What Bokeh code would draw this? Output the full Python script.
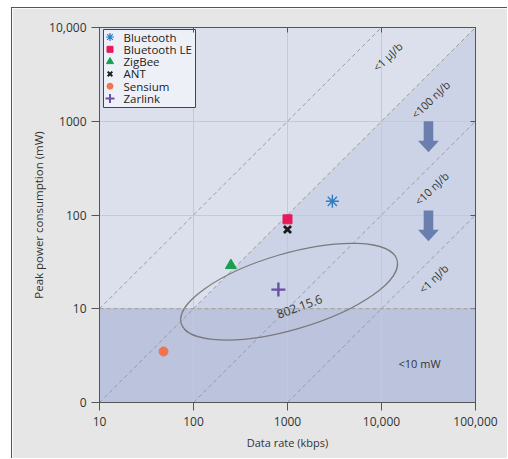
import math
from bokeh.plotting import figure
from bokeh.models import (LogAxis, FixedTicker, CustomJSTickFormatter, Span, Range1d)
from bokeh.core.properties import value
from bokeh.embed import file_html
from bokeh.resources import INLINE

# ---------------- data ----------------
series_names = ["Bluetooth", "Bluetooth LE", "ZigBee", "ANT", "Sensium", "Zarlink"]
data_rate_kbps = [3000, 1000, 250, 1000, 48, 800]
peak_power_mw = [140, 90, 29, 70, 3.5, 16]
marker_types = ["asterisk", "square", "triangle", "x", "circle", "cross"]
marker_colors = ["#2e7cc4", "#e8195a", "#17a04f", "#1a1a1a", "#f0754f", "#6a4fa6"]
marker_sizes = [13, 9, 11, 10, 9, 14]
marker_line_widths = [1.4, 1, 1, 2.8, 1, 2.4]
legend_marker_sizes = [8, 6, 7, 6.5, 6, 9]
legend_marker_line_widths = [1.2, 1, 1, 2, 1, 2]

x_tick_values = [10, 100, 1000, 10000, 100000]
x_tick_labels = ["10", "100", "1000", "10,000", "100,000"]
y_tick_values = [1, 10, 100, 1000, 10000]
y_tick_labels = ["0", "10", "100", "1000", "10,000"]
x_axis_title = "Data rate (kbps)"
y_axis_title = "Peak power consumption (mW)"

# energy per bit levels, in mW per kbps (1 mW/kbps = 1 uJ/b)
energy_levels = [1, 0.1, 0.01, 0.001]
energy_labels = ["<1 \u03bcJ/b", "<100 nJ/b", "<10 nJ/b", "<1 nJ/b"]
energy_label_x = [11600, 33200, 34000, 35700]
energy_label_y = [4900, 1710, 192, 21]
shade_boundary_level = 0.1

power_threshold_mw = 10
power_label = ["<10 mW"]
power_label_x = [25400]
power_label_y = [2.6]

ellipse_center_x = [1040]
ellipse_center_y = [15.2]
ellipse_label = ["802.15.6"]
ellipse_label_x = [1340]
ellipse_label_y = [10.6]

arrow_x = [31600, 31600]
arrow_y_start = [1000, 112]
arrow_y_end = [466, 52.6]

x_min, x_max = 10, 100000
y_min, y_max = 1, 10000

# ---------------- styles ----------------
FONT = "Open Sans"
LIGHT = "#dce0ed"
MEDIUM = "#cdd3e6"
DARK = "#bcc3dc"
ARROW = "#6b7fae"
TEXT = "#333333"

FRAME_W, FRAME_H = 376, 375
# legend box geometry in pixels from the frame's top-left corner
LEG_LEFT, LEG_RIGHT, LEG_TOP, LEG_BOTTOM = 4, 96, 2, 80
LEG_ROW0, LEG_ROW_H = 9.5, 12.3
LEG_GLYPH_X, LEG_TEXT_X = 10.5, 24

p = figure(width=496, height=451, x_axis_type="log", y_axis_type="log",
           x_range=Range1d(x_min, x_max), y_range=Range1d(y_min, y_max),
           output_backend="svg", toolbar_location=None,
           min_border_left=87, min_border_right=33, min_border_top=19, min_border_bottom=57,
           background_fill_color=LIGHT, border_fill_color="#e6e6e6",
           outline_line_color="#5a5a5a", outline_line_width=1)
p.margin = (7, 0, 0, 11)
p.styles = {"border-left": "1px solid #555", "border-top": "1px solid #555"}

ppd_x = FRAME_W / math.log10(x_max / x_min)
ppd_y = FRAME_H / math.log10(y_max / y_min)

def px_to_x(px):
    return x_min * 10 ** (px / ppd_x)

def py_to_y(py):
    return y_max / 10 ** (py / ppd_y)

# ---------------- shading ----------------
x_cross = power_threshold_mw / shade_boundary_level
med = p.patch(x=[x_cross, x_max, x_max], y=[power_threshold_mw, power_threshold_mw, shade_boundary_level * x_max],
              fill_color=MEDIUM, line_color=None)
med.level = "image"
dark = p.patch(x=[x_min, x_max, x_max, x_min], y=[y_min, y_min, power_threshold_mw, power_threshold_mw],
               fill_color=DARK, line_color=None)
dark.level = "image"

# ---------------- axes ----------------
def fmt(vals, labels):
    return CustomJSTickFormatter(args=dict(vals=vals, labels=labels), code="""
        for (let i = 0; i < vals.length; i++) {
            if (Math.abs(Math.log10(tick) - Math.log10(vals[i])) < 1e-6) return labels[i];
        }
        return "";
    """)

xa = p.xaxis[0]
xa.ticker = FixedTicker(ticks=x_tick_values)
xa.formatter = fmt(x_tick_values, x_tick_labels)
ya = p.yaxis[0]
ya.ticker = FixedTicker(ticks=y_tick_values)
ya.formatter = fmt(y_tick_values, y_tick_labels)

for ax in (xa, ya):
    ax.axis_line_color = "#555555"
    ax.major_tick_line_color = "#555555"
    ax.major_tick_out = 8
    ax.major_tick_in = 0
    ax.minor_tick_line_color = None
    ax.major_label_text_font = FONT
    ax.major_label_text_font_size = "12px"
    ax.major_label_text_color = TEXT
    ax.axis_label_text_font = FONT
    ax.axis_label_text_font_style = "normal"
    ax.axis_label_text_color = TEXT

xa.axis_label = x_axis_title
xa.axis_label_text_font_size = "11px"
xa.major_label_standoff = 6
xa.axis_label_standoff = 6
ya.axis_label = y_axis_title
ya.axis_label_text_font_size = "11.5px"
ya.major_label_standoff = 5
ya.axis_label_standoff = 0

blank = CustomJSTickFormatter(code="return '';")
for loc, ticks in (("right", y_tick_values), ("above", x_tick_values)):
    ax = LogAxis(ticker=FixedTicker(ticks=ticks), formatter=blank,
                 axis_line_color="#555555", major_tick_line_color="#555555",
                 major_tick_in=5, major_tick_out=0, minor_tick_line_color=None)
    p.add_layout(ax, loc)

p.xgrid.ticker = FixedTicker(ticks=x_tick_values)
p.ygrid.ticker = FixedTicker(ticks=y_tick_values)
for g in (p.xgrid, p.ygrid):
    g.grid_line_color = "#c6c9d3"
    g.grid_line_width = 1

# ---------------- energy lines ----------------
p.multi_line(xs=[[x_min, x_max] for _ in energy_levels],
             ys=[[e * x_min, e * x_max] for e in energy_levels],
             line_color="#9b9b9b", line_dash="4 3", line_width=1)
p.add_layout(Span(location=power_threshold_mw, dimension="width",
                  line_color="#9b9b9b", line_dash="4 3", line_width=1))

p.text(x=energy_label_x, y=energy_label_y, text=energy_labels, angle=math.radians(44),
       text_align="center", text_baseline="middle", text_font=value(FONT),
       text_font_size="11px", text_color=TEXT)
p.text(x=power_label_x, y=power_label_y, text=power_label,
       text_align="center", text_baseline="middle", text_font=value(FONT),
       text_font_size="11px", text_color=TEXT)

# ---------------- arrows ----------------
fs = 10 ** (4.8 / ppd_x)
fh = 10 ** (10.5 / ppd_x)
fl = 10 ** (11.5 / ppd_y)
axs, ays = [], []
for x, ys0, ye in zip(arrow_x, arrow_y_start, arrow_y_end):
    axs.append([x / fs, x * fs, x * fs, x * fh, x, x / fh, x / fs])
    ays.append([ys0, ys0, ye * fl, ye * fl, ye, ye * fl, ye * fl])
p.patches(xs=axs, ys=ays, fill_color=ARROW, line_color=None)

# ---------------- 802.15.6 ellipse ----------------
p.ellipse(x=ellipse_center_x, y=ellipse_center_y, width=225, height=76,
          angle=math.radians(16.4), width_units="screen", height_units="screen",
          fill_color=None, line_color="#7a7a7a", line_width=1.2)
p.text(x=ellipse_label_x, y=ellipse_label_y, text=ellipse_label, angle=math.radians(20),
       text_align="center", text_baseline="middle", text_font=value(FONT),
       text_font_size="12px", text_color=TEXT)

# ---------------- markers ----------------
for name, x, y, m, c, s, lw in zip(series_names, data_rate_kbps, peak_power_mw,
                                    marker_types, marker_colors, marker_sizes, marker_line_widths):
    p.scatter(x=[x], y=[y], marker=m, size=s, fill_color=c, line_color=c, line_width=lw)

# ---------------- legend (compact box) ----------------
lx0, lx1 = px_to_x(LEG_LEFT), px_to_x(LEG_RIGHT)
ly0, ly1 = py_to_y(LEG_TOP), py_to_y(LEG_BOTTOM)
p.patch(x=[lx0, lx1, lx1, lx0], y=[ly0, ly0, ly1, ly1],
        fill_color="#eef0f7", fill_alpha=1, line_color="#444444", line_width=1)
row_y = [py_to_y(LEG_ROW0 + i * LEG_ROW_H) for i in range(len(series_names))]
for i, (m, c, s, lw) in enumerate(zip(marker_types, marker_colors,
                                       legend_marker_sizes, legend_marker_line_widths)):
    p.scatter(x=[px_to_x(LEG_GLYPH_X)], y=[row_y[i]], marker=m, size=s,
              fill_color=c, line_color=c, line_width=lw)
p.text(x=[px_to_x(LEG_TEXT_X)] * len(series_names), y=row_y, text=series_names,
       text_align="left", text_baseline="middle", text_font=value(FONT),
       text_font_size="11.5px", text_color="#222222")

open("out.html", "w").write(file_html(p, INLINE))
